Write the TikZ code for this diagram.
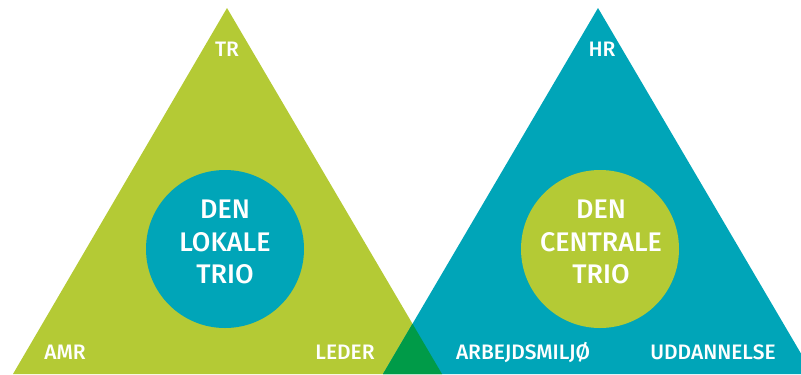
\documentclass[tikz,border=0pt]{standalone}
\usepackage{fontspec}
\setmainfont{Fira Sans}[BoldFont={Fira Sans Medium}]
\definecolor{lime}{HTML}{B4CA35}
\definecolor{teal}{HTML}{00A5B8}
\definecolor{darkgreen}{HTML}{009B48}
\tikzset{
    corner/.style={text=white, font=\bfseries\fontsize{21}{21}\selectfont, inner sep=0pt},
    trio/.style={text=white, align=center, font=\bfseries\fontsize{27}{33}\selectfont, inner sep=0pt}
}

\begin{document}
\begin{tikzpicture}[x=1bp, y=-1bp]
    \useasboundingbox (0,0) rectangle (801,374);
    % the two triangles
    \fill [lime] (227,8) -- (442,374) -- (13,374) -- cycle;
    \fill [teal] (598,8) -- (813,374) -- (383,374) -- cycle;
    % where they overlap
    \begin{scope}
        \clip (227,8) -- (442,374) -- (13,374) -- cycle;
        \fill [darkgreen] (598,8) -- (813,374) -- (383,374) -- cycle;
    \end{scope}
    % circles
    \fill [teal] (225,249) circle (79);
    \fill [lime] (600,249) circle (79);
    \node (lokal) at (225,242) [trio] {DEN\\LOKALE\\TRIO};
    \node (central) at (601,242) [trio] {DEN\\CENTRALE\\TRIO};
    % labels in the corners
    \node (tr) at (227,49) [corner] {TR};
    \node (hr) at (602,49) [corner] {HR};
    \node (amr) at (65,352) [corner] {AMR};
    \node (leder) at (345,352) [corner] {LEDER};
    \node (arbejd) at (523,352) [corner] {ARBEJDSMILJØ};
    \node (udd) at (713,352) [corner] {UDDANNELSE};
\end{tikzpicture}
\end{document}
